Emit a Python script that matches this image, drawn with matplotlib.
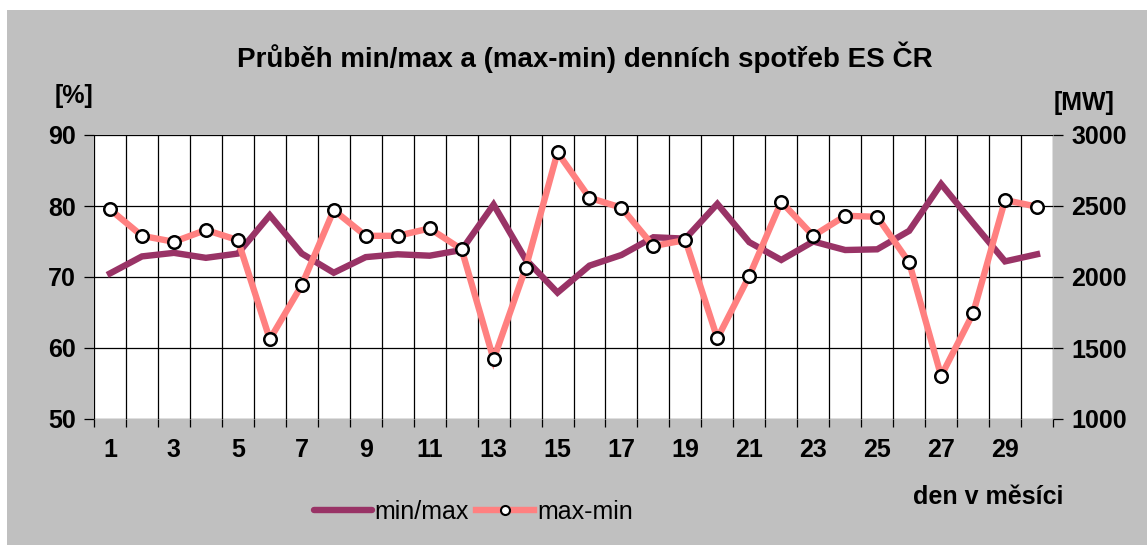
import matplotlib
matplotlib.use("Agg")
import matplotlib.pyplot as plt
from matplotlib.patches import Rectangle
from matplotlib.lines import Line2D
import numpy as np

days = list(range(1, 31))
min_max = [70.5, 72.9, 73.4, 72.7, 73.3, 78.7, 73.3, 70.6, 72.8, 73.2,
           73.0, 73.8, 80.2, 72.5, 67.8, 71.6, 73.1, 75.6, 75.4, 80.3,
           74.9, 72.4, 75.0, 73.8, 73.9, 76.5, 83.1, 77.6, 72.2, 73.2]
max_min = [2476, 2290, 2248, 2331, 2260, 1561, 1943, 2471, 2290, 2290,
           2342, 2195, 1420, 2061, 2877, 2558, 2488, 2218, 2260, 1568,
           2008, 2530, 2290, 2431, 2424, 2103, 1303, 1744, 2542, 2495]
left_ticks = [50, 60, 70, 80, 90]
right_ticks = [1000, 1500, 2000, 2500, 3000]
xtick_labels = [str(d) for d in days if d % 2 == 1]

title = "Průběh min/max a (max-min) denních spotřeb ES ČR"
FONT = "Liberation Sans"
FS = 18
TFS = 20

W, H = 1147, 545
fig = plt.figure(figsize=(W / 100, H / 100), dpi=100)
fig.patch.set_facecolor("white")
fig.patches.append(Rectangle((7 / W, 0), 1 - 7 / W, 1 - 10 / H,
                             transform=fig.transFigure, facecolor="#C0C0C0",
                             edgecolor="none", zorder=-10))

ax = fig.add_axes([94 / W, (H - 419) / H, (1053 - 94) / W, (419 - 135) / H])
ax.set_facecolor("white")
ax2 = ax.twinx()

x = np.arange(len(days))
ax.set_xlim(-0.5, len(days) - 0.5)
ax.set_ylim(50, 90)
ax2.set_ylim(1000, 3000)

# grid
for yv in left_ticks:
    ax.axhline(yv, color="black", lw=0.9, zorder=1)
for b in np.arange(-0.5, len(days), 1.0):
    ax.axvline(b, color="black", lw=0.9, zorder=1)

ax.set_yticks(left_ticks)
ax.set_yticklabels([str(v) for v in left_ticks])
ax2.set_yticks(right_ticks)
ax2.set_yticklabels([str(v) for v in right_ticks])

ax.set_xticks(np.arange(-0.5, len(days), 1.0), minor=True)
ax.set_xticks(x[::2])
ax.set_xticklabels(xtick_labels)
ax.tick_params(axis="x", which="major", length=0, pad=14)
ax.tick_params(axis="x", which="minor", length=6, width=0.9, color="black")
ax.tick_params(axis="y", length=7, width=0.9, pad=6)
ax2.tick_params(axis="y", length=7, width=0.9, pad=6)

for a in (ax, ax2):
    for lab in a.get_xticklabels() + a.get_yticklabels():
        lab.set_fontfamily(FONT)
        lab.set_fontweight("bold")
        lab.set_fontsize(FS)
    for s in a.spines.values():
        s.set_visible(False)

ax.plot(x, min_max, color="#993366", lw=4.6, solid_joinstyle="miter", zorder=3)
ax2.plot(x, max_min, color="#FF8080", lw=4.6, solid_joinstyle="miter", zorder=3,
         marker="o", markersize=9, markerfacecolor="white",
         markeredgecolor="black", markeredgewidth=1.8)
ax2.set_zorder(ax.get_zorder() + 1)
ax2.patch.set_visible(False)

fig.text(585 / W, 1 - 57 / H, title, ha="center", va="center", fontfamily=FONT,
         fontweight="bold", fontsize=TFS)
fig.text(74 / W, 1 - 96 / H, "[%]", ha="center", va="center", fontfamily=FONT,
         fontweight="bold", fontsize=FS)
fig.text(1084 / W, 1 - 103 / H, "[MW]", ha="center", va="center", fontfamily=FONT,
         fontweight="bold", fontsize=FS)
fig.text(1063 / W, 1 - 497 / H, "den v měsíci", ha="right", va="center",
         fontfamily=FONT, fontweight="bold", fontsize=FS)

h1 = Line2D([], [], color="#993366", lw=4.6, solid_capstyle="round")
h2 = Line2D([], [], color="#FF8080", lw=4.6, marker="o", markersize=6.5,
            markerfacecolor="white", markeredgecolor="black", markeredgewidth=1.5)
leg = fig.legend([h1, h2], ["min/max", "max-min"], loc="center left",
                 bbox_to_anchor=(314 / W, 1 - 512 / H), ncol=2, frameon=False,
                 handlelength=2.3, handletextpad=0.12, columnspacing=0.3,
                 borderaxespad=0, borderpad=0,
                 prop={"family": FONT, "size": FS})

fig.savefig("out.png", dpi=100)
